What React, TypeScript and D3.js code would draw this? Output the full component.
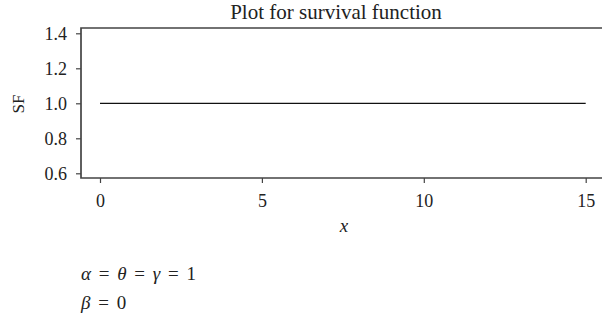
import { useEffect, useRef } from "react";
import * as d3 from "d3";

// survival function samples (constant at 1)
const xValues = [0, 15];
const sfValues = [1, 1];
const xTicks = [0, 5, 10, 15];
const yTicks = [0.6, 0.8, 1.0, 1.2, 1.4];
const title = "Plot for survival function";
// each parameter line: [text, italic?] pieces
const paramLines: [string, boolean][][] = [
    [["α", true], [" = ", false], ["θ", true], [" = ", false], ["γ", true], [" = 1", false]],
    [["β", true], [" = 0", false]],
];

const App = () => {
    const svgRef = useRef<SVGSVGElement>(null);

    useEffect(() => {
        const width = 602;
        const left = 81;
        const top = 28;
        const bottom = 178;
        const font = "'Liberation Serif', 'DejaVu Serif', serif";
        const axisColor = "#444";
        const textColor = "#222";

        const svg = d3.select(svgRef.current);
        svg.selectAll("*").remove();

        const x = d3.scaleLinear().domain([0, 15]).range([100, 585.7]);
        const y = d3.scaleLinear().domain([0.6, 1.4]).range([173.3, 33.3]);

        // frame: left, top and bottom edges (open on the right)
        svg.append("path")
            .attr("d", `M${width},${top}H${left}V${bottom}H${width}`)
            .attr("fill", "none")
            .attr("stroke", axisColor)
            .attr("stroke-width", 1.7);

        // y axis
        const yAxis = svg.append("g").attr("transform", `translate(${left},0)`)
            .call(d3.axisLeft(y).tickValues(yTicks).tickFormat(d3.format(".1f")).tickSize(5).tickPadding(9));
        yAxis.select(".domain").remove();
        yAxis.selectAll("line").attr("stroke", axisColor).attr("stroke-width", 1.2);
        yAxis.selectAll("text").attr("font-family", font).attr("font-size", 18).attr("fill", textColor);

        // x axis
        const xAxis = svg.append("g").attr("transform", `translate(0,${bottom})`)
            .call(d3.axisBottom(x).tickValues(xTicks).tickFormat(d3.format("d")).tickSize(5).tickPadding(11));
        xAxis.select(".domain").remove();
        xAxis.selectAll("line").attr("stroke", axisColor).attr("stroke-width", 1.2);
        xAxis.selectAll("text").attr("font-family", font).attr("font-size", 18).attr("fill", textColor);

        // the curve
        const line = d3.line<number>().x((d, i) => x(xValues[i])).y((d) => y(d));
        svg.append("path")
            .datum(sfValues)
            .attr("d", line)
            .attr("fill", "none")
            .attr("stroke", "#111")
            .attr("stroke-width", 1.3);

        svg.append("text")
            .attr("x", 336)
            .attr("y", 19)
            .attr("text-anchor", "middle")
            .attr("font-family", font)
            .attr("font-size", 21)
            .attr("fill", textColor)
            .text(title);

        svg.append("text")
            .attr("x", 344)
            .attr("y", 232)
            .attr("text-anchor", "middle")
            .attr("font-family", font)
            .attr("font-style", "italic")
            .attr("font-size", 19)
            .attr("fill", textColor)
            .text("x");

        svg.append("text")
            .attr("transform", "translate(24,104) rotate(-90)")
            .attr("text-anchor", "middle")
            .attr("font-family", font)
            .attr("font-size", 17)
            .attr("fill", textColor)
            .text("SF");

        const params = svg.selectAll(".param")
            .data(paramLines)
            .enter()
            .append("text")
            .attr("class", "param")
            .attr("x", 81)
            .attr("y", (d, i) => 280 + i * 29)
            .attr("font-family", font)
            .attr("font-size", 19)
            .attr("fill", textColor)
            .style("white-space", "pre")
            .style("word-spacing", "3px");
        params.selectAll("tspan")
            .data((d) => d)
            .enter()
            .append("tspan")
            .attr("font-style", (d) => (d[1] ? "italic" : "normal"))
            .text((d) => d[0]);
    }, []);

    return <svg ref={svgRef} width={602} height={323} style={{ position: "absolute", left: 0, top: 0 }}></svg>;
};

export default App;
